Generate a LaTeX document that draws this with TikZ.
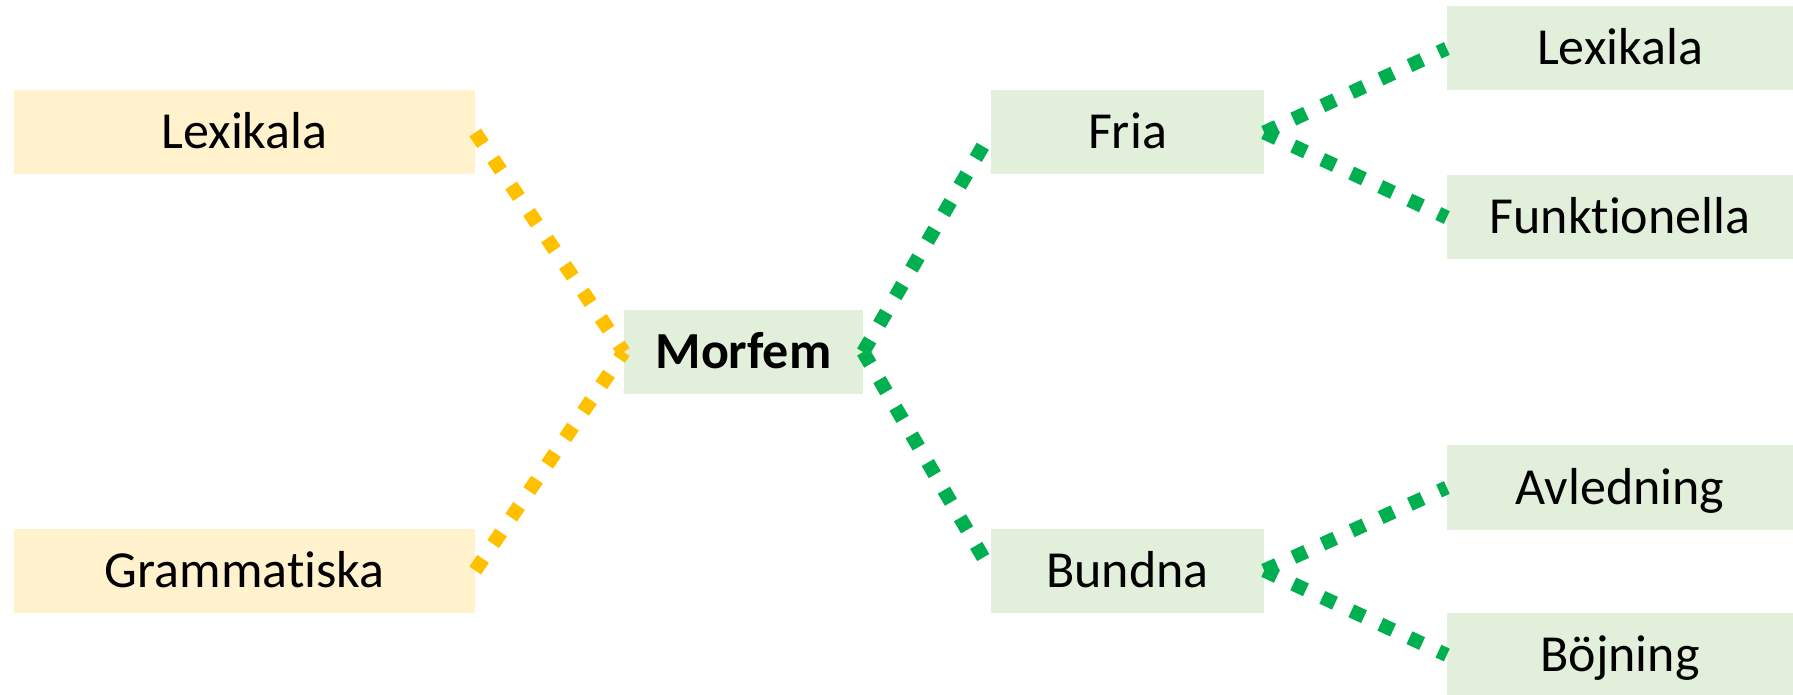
\documentclass[tikz,border=0pt]{standalone}
\usepackage{fontspec}
\setmainfont{Carlito}[Ligatures={NoCommon,NoRequired,NoContextual,NoRare}]
\usetikzlibrary{positioning}

\definecolor{ylwfill}{HTML}{FFF2CC}
\definecolor{grnfill}{HTML}{E2EFDA}
\definecolor{ylwline}{HTML}{FFC000}
\definecolor{grnline}{HTML}{00B050}

\begin{document}
\begin{tikzpicture}[x=1pt,y=1pt,
		box/.style={rectangle, inner sep=0pt, minimum height=84pt,
			text height=33pt, text depth=0pt, font=\fontsize{52}{60}\selectfont},
		ybox/.style={box, fill=ylwfill, minimum width=461pt},
		gbox/.style={box, fill=grnfill},
		link/.style={line width=14pt, dash pattern=on 14pt off 18pt},
		ylink/.style={link, draw=ylwline},
		glink/.style={link, draw=grnline}]

		\useasboundingbox (0,0) rectangle (1793,694);

		\node[ybox] (LexL) at (244.5,561.5) {Lexikala};
		\node[ybox] (Gram) [below of=LexL, node distance=438pt] {Grammatiska};

		\node[gbox, minimum width=239pt] (Morf) at (743.5,342) {\textbf{Morfem}};

		\node[gbox, minimum width=273pt] (Fria) at (1127.5,561.5) {Fria};
		\node[gbox, minimum width=273pt] (Bund) [below of=Fria, node distance=438pt] {Bundna};

		\node[gbox, minimum width=346pt] (LexR) at (1620,645.5) {Lexikala};
		\node[gbox, minimum width=346pt] (Funk) [below of=LexR, node distance=169pt] {Funktionella};
		\node[gbox, minimum width=346pt] (Avl) at (1620,206.5) {Avledning};
		\node[gbox, minimum width=346pt] (Boj) [below of=Avl, node distance=167.5pt] {Böjning};

		\path[ylink] (LexL.east) edge (Morf.west)
			(Gram.east) edge (Morf.west);
		\path[glink] (Morf.east) edge (Fria.west)
			(Morf.east) edge (Bund.west);
		\path[glink] (Fria.east) edge (LexR.west)
			(Fria.east) edge (Funk.west);
		\path[glink] (Bund.east) edge (Avl.west)
			(Bund.east) edge (Boj.west);

	\end{tikzpicture}
\end{document}
